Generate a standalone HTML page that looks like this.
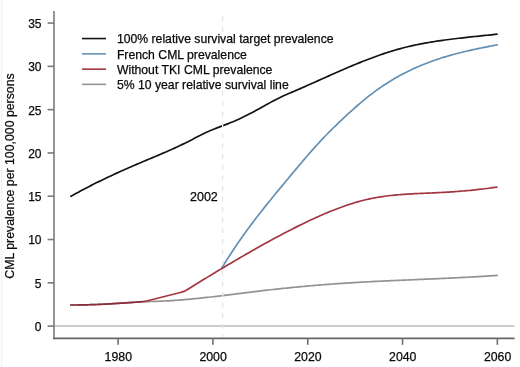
<!DOCTYPE html>
<html><head><meta charset="utf-8"><style>
html,body{margin:0;padding:0;background:#fff;width:520px;height:367px;overflow:hidden}
svg{display:block;filter:blur(0.35px)}
text{font-family:"Liberation Sans",sans-serif;font-size:12px;fill:#0a0a0a;stroke:#0a0a0a;stroke-width:0.25px}
text.lg{font-size:12.22px}
text.yl{font-size:12.3px}
text.yr{font-size:12.5px}
text.xt{font-size:12.3px}
</style></head><body>
<svg width="520" height="367" viewBox="0 0 520 367">
<line x1="53.6" y1="326.10" x2="514.6" y2="326.10" stroke="#bdbdbd" stroke-width="1.5"/>
<path d="M70.80,305.00 L72.79,305.01 L74.79,305.01 L76.78,305.00 L78.78,304.98 L80.77,304.95 L82.77,304.92 L84.76,304.88 L86.76,304.83 L88.75,304.77 L90.75,304.71 L92.74,304.64 L94.74,304.57 L96.73,304.49 L98.72,304.41 L100.72,304.32 L102.71,304.22 L104.71,304.12 L106.70,304.02 L108.70,303.91 L110.69,303.80 L112.69,303.69 L114.68,303.57 L116.68,303.45 L118.67,303.33 L120.66,303.20 L122.66,303.07 L124.65,302.94 L126.65,302.81 L128.64,302.68 L130.64,302.54 L132.63,302.41 L134.63,302.28 L136.62,302.14 L138.62,302.00 L140.61,301.87 L142.61,301.74 L144.60,301.60 L146.60,301.57 L148.61,301.55 L150.61,301.51 L152.61,301.46 L154.61,301.41 L156.62,301.34 L158.62,301.27 L160.62,301.19 L162.63,301.10 L164.63,301.00 L166.63,300.90 L168.63,300.79 L170.64,300.67 L172.64,300.54 L174.64,300.40 L176.65,300.26 L178.65,300.11 L180.65,299.96 L182.65,299.80 L184.66,299.63 L186.66,299.46 L188.66,299.28 L190.67,299.10 L192.67,298.91 L194.67,298.72 L196.67,298.52 L198.68,298.31 L200.68,298.11 L202.68,297.89 L204.69,297.68 L206.69,297.46 L208.69,297.23 L210.69,297.01 L212.70,296.78 L214.70,296.54 L216.70,296.31 L218.71,296.07 L220.71,295.83 L222.71,295.58 L224.71,295.34 L226.72,295.09 L228.72,294.84 L230.72,294.59 L232.72,294.34 L234.73,294.09 L236.73,293.84 L238.73,293.59 L240.74,293.34 L242.74,293.09 L244.74,292.84 L246.74,292.59 L248.75,292.34 L250.75,292.10 L252.75,291.85 L254.76,291.61 L256.76,291.37 L258.76,291.13 L260.76,290.89 L262.77,290.66 L264.77,290.43 L266.77,290.20 L268.78,289.97 L270.78,289.75 L272.78,289.52 L274.78,289.30 L276.79,289.09 L278.79,288.87 L280.79,288.66 L282.80,288.45 L284.80,288.24 L286.80,288.04 L288.80,287.83 L290.81,287.63 L292.81,287.43 L294.81,287.24 L296.82,287.04 L298.82,286.85 L300.82,286.66 L302.82,286.48 L304.83,286.30 L306.83,286.11 L308.83,285.94 L310.84,285.76 L312.84,285.59 L314.84,285.42 L316.84,285.25 L318.85,285.08 L320.85,284.92 L322.85,284.76 L324.86,284.60 L326.86,284.45 L328.86,284.29 L330.86,284.14 L332.87,284.00 L334.87,283.85 L336.87,283.71 L338.88,283.57 L340.88,283.43 L342.88,283.30 L344.88,283.17 L346.89,283.04 L348.89,282.91 L350.89,282.79 L352.90,282.67 L354.90,282.55 L356.90,282.43 L358.90,282.31 L360.91,282.20 L362.91,282.09 L364.91,281.98 L366.92,281.87 L368.92,281.76 L370.92,281.66 L372.92,281.56 L374.93,281.46 L376.93,281.36 L378.93,281.26 L380.94,281.16 L382.94,281.06 L384.94,280.97 L386.94,280.88 L388.95,280.78 L390.95,280.69 L392.95,280.60 L394.96,280.51 L396.96,280.42 L398.96,280.33 L400.96,280.25 L402.97,280.16 L404.97,280.07 L406.97,279.98 L408.98,279.90 L410.98,279.81 L412.98,279.73 L414.98,279.64 L416.99,279.56 L418.99,279.47 L420.99,279.39 L422.99,279.30 L425.00,279.21 L427.00,279.13 L429.00,279.04 L431.01,278.96 L433.01,278.87 L435.01,278.78 L437.01,278.69 L439.02,278.60 L441.02,278.51 L443.02,278.42 L445.03,278.33 L447.03,278.24 L449.03,278.14 L451.03,278.05 L453.04,277.95 L455.04,277.85 L457.04,277.76 L459.05,277.66 L461.05,277.55 L463.05,277.45 L465.05,277.35 L467.06,277.24 L469.06,277.13 L471.06,277.02 L473.07,276.91 L475.07,276.80 L477.07,276.68 L479.07,276.56 L481.08,276.44 L483.08,276.32 L485.08,276.20 L487.09,276.07 L489.09,275.94 L491.09,275.81 L493.09,275.67 L495.10,275.54 L497.10,275.40" fill="none" stroke="#939393" stroke-width="1.7" stroke-linejoin="round" stroke-linecap="round"/>
<path d="M70.90,196.25 L72.89,195.14 L74.89,194.05 L76.88,192.96 L78.87,191.88 L80.86,190.81 L82.86,189.75 L84.85,188.71 L86.84,187.67 L88.83,186.64 L90.83,185.62 L92.82,184.61 L94.81,183.61 L96.80,182.61 L98.80,181.63 L100.79,180.65 L102.78,179.69 L104.77,178.73 L106.77,177.78 L108.76,176.83 L110.75,175.90 L112.74,174.97 L114.74,174.05 L116.73,173.13 L118.72,172.23 L120.71,171.33 L122.71,170.43 L124.70,169.55 L126.69,168.66 L128.68,167.79 L130.68,166.92 L132.67,166.06 L134.66,165.20 L136.65,164.35 L138.65,163.50 L140.64,162.66 L142.63,161.82 L144.62,160.98 L146.62,160.14 L148.61,159.31 L150.60,158.47 L152.59,157.63 L154.59,156.79 L156.58,155.95 L158.57,155.11 L160.56,154.26 L162.56,153.40 L164.55,152.54 L166.54,151.67 L168.53,150.80 L170.53,149.91 L172.52,149.02 L174.51,148.12 L176.50,147.20 L178.50,146.27 L180.49,145.33 L182.48,144.38 L184.47,143.42 L186.47,142.43 L188.46,141.44 L190.45,140.42 L192.44,139.39 L194.44,138.35 L196.43,137.30 L198.42,136.26 L200.41,135.23 L202.41,134.23 L204.40,133.25 L206.39,132.32 L208.38,131.42 L210.38,130.56 L212.37,129.73 L214.36,128.93 L216.35,128.14 L218.35,127.37 L220.34,126.61 L222.33,125.86 L224.32,125.11 L226.32,124.36 L228.31,123.59 L230.30,122.81 L232.29,122.00 L234.29,121.17 L236.28,120.31 L238.27,119.42 L240.26,118.51 L242.26,117.57 L244.25,116.60 L246.24,115.61 L248.23,114.61 L250.23,113.57 L252.22,112.52 L254.21,111.45 L256.20,110.37 L258.20,109.27 L260.19,108.16 L262.18,107.05 L264.17,105.94 L266.17,104.83 L268.16,103.73 L270.15,102.63 L272.14,101.55 L274.14,100.48 L276.13,99.43 L278.12,98.41 L280.11,97.41 L282.11,96.44 L284.10,95.50 L286.11,94.67 L288.12,93.83 L290.13,92.98 L292.13,92.12 L294.14,91.26 L296.15,90.39 L298.16,89.52 L300.17,88.64 L302.18,87.76 L304.18,86.87 L306.19,85.99 L308.20,85.09 L310.21,84.20 L312.22,83.30 L314.23,82.41 L316.24,81.51 L318.24,80.61 L320.25,79.71 L322.26,78.81 L324.27,77.91 L326.28,77.01 L328.29,76.12 L330.30,75.22 L332.30,74.33 L334.31,73.44 L336.32,72.56 L338.33,71.68 L340.34,70.80 L342.35,69.93 L344.35,69.06 L346.36,68.20 L348.37,67.34 L350.38,66.49 L352.39,65.65 L354.40,64.81 L356.41,63.98 L358.41,63.16 L360.42,62.35 L362.43,61.55 L364.44,60.75 L366.45,59.97 L368.46,59.20 L370.47,58.43 L372.47,57.68 L374.48,56.94 L376.49,56.21 L378.50,55.50 L380.51,54.79 L382.52,54.10 L384.52,53.43 L386.53,52.77 L388.54,52.12 L390.55,51.49 L392.56,50.87 L394.57,50.27 L396.58,49.68 L398.58,49.12 L400.59,48.57 L402.60,48.03 L404.61,47.52 L406.62,47.02 L408.63,46.53 L410.63,46.06 L412.64,45.61 L414.65,45.17 L416.66,44.75 L418.67,44.34 L420.68,43.94 L422.69,43.55 L424.69,43.18 L426.70,42.82 L428.71,42.47 L430.72,42.13 L432.73,41.80 L434.74,41.49 L436.75,41.18 L438.75,40.88 L440.76,40.59 L442.77,40.30 L444.78,40.03 L446.79,39.76 L448.80,39.50 L450.80,39.24 L452.81,38.99 L454.82,38.75 L456.83,38.51 L458.84,38.27 L460.85,38.04 L462.86,37.81 L464.86,37.59 L466.87,37.37 L468.88,37.15 L470.89,36.93 L472.90,36.72 L474.91,36.51 L476.92,36.30 L478.92,36.09 L480.93,35.88 L482.94,35.67 L484.95,35.46 L486.96,35.25 L488.97,35.04 L490.97,34.83 L492.98,34.62 L494.99,34.41 L497.00,34.20" fill="none" stroke="#141414" stroke-width="1.7" stroke-linejoin="round" stroke-linecap="round"/>
<path d="M221.80,268.00 L223.79,264.75 L225.79,261.55 L227.78,258.40 L229.78,255.29 L231.77,252.24 L233.77,249.22 L235.76,246.26 L237.76,243.33 L239.75,240.44 L241.75,237.60 L243.74,234.79 L245.74,232.01 L247.73,229.27 L249.73,226.56 L251.72,223.88 L253.72,221.24 L255.71,218.61 L257.71,216.02 L259.70,213.45 L261.70,210.90 L263.69,208.38 L265.69,205.87 L267.68,203.38 L269.68,200.91 L271.67,198.45 L273.67,196.01 L275.66,193.58 L277.66,191.16 L279.65,188.75 L281.65,186.35 L283.64,183.95 L285.64,181.56 L287.63,179.18 L289.63,176.79 L291.62,174.41 L293.62,172.03 L295.61,169.64 L297.61,167.26 L299.60,164.87 L301.60,162.49 L303.59,160.12 L305.59,157.77 L307.58,155.44 L309.58,153.13 L311.57,150.85 L313.57,148.60 L315.56,146.39 L317.56,144.21 L319.55,142.06 L321.55,139.94 L323.54,137.84 L325.54,135.78 L327.53,133.74 L329.53,131.72 L331.52,129.72 L333.52,127.75 L335.51,125.80 L337.51,123.86 L339.50,121.94 L341.50,120.04 L343.49,118.15 L345.49,116.28 L347.48,114.43 L349.48,112.60 L351.47,110.80 L353.47,109.01 L355.46,107.25 L357.46,105.51 L359.45,103.80 L361.44,102.11 L363.44,100.45 L365.43,98.81 L367.43,97.21 L369.42,95.64 L371.42,94.09 L373.41,92.58 L375.41,91.10 L377.40,89.66 L379.40,88.25 L381.39,86.87 L383.39,85.52 L385.38,84.20 L387.38,82.92 L389.37,81.67 L391.37,80.44 L393.36,79.25 L395.36,78.08 L397.35,76.94 L399.35,75.83 L401.34,74.75 L403.34,73.69 L405.33,72.67 L407.33,71.66 L409.32,70.68 L411.32,69.73 L413.31,68.80 L415.31,67.90 L417.30,67.02 L419.30,66.16 L421.29,65.32 L423.29,64.50 L425.28,63.71 L427.28,62.94 L429.27,62.18 L431.27,61.45 L433.26,60.74 L435.26,60.04 L437.25,59.36 L439.25,58.70 L441.24,58.06 L443.24,57.43 L445.23,56.82 L447.23,56.23 L449.22,55.65 L451.22,55.08 L453.21,54.53 L455.21,53.99 L457.20,53.47 L459.20,52.96 L461.19,52.46 L463.19,51.97 L465.18,51.49 L467.18,51.02 L469.17,50.56 L471.17,50.12 L473.16,49.68 L475.16,49.25 L477.15,48.82 L479.15,48.41 L481.14,48.00 L483.14,47.59 L485.13,47.20 L487.13,46.80 L489.12,46.42 L491.12,46.03 L493.11,45.65 L495.11,45.28 L497.10,44.90" fill="none" stroke="#6490b4" stroke-width="1.7" stroke-linejoin="round" stroke-linecap="round"/>
<path d="M70.80,305.00 L72.79,305.00 L74.79,304.99 L76.78,304.98 L78.78,304.96 L80.77,304.93 L82.77,304.90 L84.76,304.86 L86.76,304.81 L88.75,304.76 L90.75,304.70 L92.74,304.63 L94.74,304.56 L96.73,304.49 L98.72,304.41 L100.72,304.32 L102.71,304.23 L104.71,304.13 L106.70,304.03 L108.70,303.93 L110.69,303.82 L112.69,303.71 L114.68,303.59 L116.68,303.47 L118.67,303.35 L120.66,303.22 L122.66,303.09 L124.65,302.96 L126.65,302.82 L128.64,302.68 L130.64,302.54 L132.63,302.40 L134.63,302.25 L136.62,302.11 L138.62,301.96 L140.61,301.81 L142.61,301.66 L144.60,301.50" fill="none" stroke="#8a2c39" stroke-width="1.7" stroke-linejoin="round" stroke-linecap="round"/>
<path d="M144.60,301.50 L146.59,300.98 L148.57,300.47 L150.56,299.96 L152.54,299.46 L154.53,298.96 L156.51,298.46 L158.50,297.97 L160.48,297.48 L162.47,296.98 L164.45,296.49 L166.44,296.00 L168.42,295.50 L170.41,295.00 L172.39,294.50 L174.38,294.00 L176.36,293.49 L178.34,292.98 L180.33,292.46 L182.31,291.93 L184.30,291.40 L186.30,290.16 L188.31,288.92 L190.31,287.69 L192.32,286.45 L194.32,285.22 L196.32,283.99 L198.33,282.76 L200.33,281.53 L202.33,280.31 L204.34,279.08 L206.34,277.86 L208.35,276.64 L210.35,275.43 L212.35,274.21 L214.36,273.00 L216.36,271.79 L218.37,270.59 L220.37,269.38 L222.37,268.18 L224.38,266.99 L226.38,265.79 L228.38,264.60 L230.39,263.41 L232.39,262.23 L234.40,261.05 L236.40,259.87 L238.40,258.70 L240.41,257.53 L242.41,256.37 L244.42,255.21 L246.42,254.05 L248.42,252.90 L250.43,251.75 L252.43,250.61 L254.43,249.47 L256.44,248.34 L258.44,247.21 L260.45,246.08 L262.45,244.96 L264.45,243.85 L266.46,242.74 L268.46,241.64 L270.47,240.54 L272.47,239.45 L274.47,238.36 L276.48,237.28 L278.48,236.21 L280.48,235.14 L282.49,234.08 L284.49,233.03 L286.50,231.98 L288.50,230.94 L290.50,229.91 L292.51,228.89 L294.51,227.88 L296.52,226.87 L298.52,225.88 L300.52,224.89 L302.53,223.91 L304.53,222.95 L306.53,221.99 L308.54,221.04 L310.54,220.10 L312.55,219.17 L314.55,218.26 L316.55,217.35 L318.56,216.46 L320.56,215.57 L322.57,214.70 L324.57,213.84 L326.57,212.99 L328.58,212.16 L330.58,211.33 L332.58,210.53 L334.59,209.73 L336.59,208.95 L338.60,208.19 L340.60,207.44 L342.60,206.71 L344.61,206.00 L346.61,205.31 L348.62,204.63 L350.62,203.98 L352.62,203.34 L354.63,202.73 L356.63,202.13 L358.63,201.56 L360.64,201.02 L362.64,200.49 L364.65,199.99 L366.65,199.52 L368.65,199.07 L370.66,198.64 L372.66,198.24 L374.67,197.86 L376.67,197.50 L378.67,197.16 L380.68,196.84 L382.68,196.54 L384.68,196.26 L386.69,196.00 L388.69,195.75 L390.70,195.52 L392.70,195.31 L394.70,195.11 L396.71,194.92 L398.71,194.75 L400.72,194.58 L402.72,194.43 L404.72,194.29 L406.73,194.16 L408.73,194.03 L410.73,193.91 L412.74,193.80 L414.74,193.70 L416.75,193.60 L418.75,193.51 L420.75,193.42 L422.76,193.33 L424.76,193.24 L426.77,193.16 L428.77,193.07 L430.77,192.98 L432.78,192.90 L434.78,192.81 L436.78,192.71 L438.79,192.62 L440.79,192.52 L442.80,192.41 L444.80,192.30 L446.80,192.18 L448.81,192.06 L450.81,191.93 L452.82,191.79 L454.82,191.65 L456.82,191.50 L458.83,191.35 L460.83,191.19 L462.83,191.02 L464.84,190.85 L466.84,190.67 L468.85,190.48 L470.85,190.29 L472.85,190.09 L474.86,189.88 L476.86,189.67 L478.87,189.44 L480.87,189.21 L482.87,188.98 L484.88,188.73 L486.88,188.48 L488.88,188.22 L490.89,187.95 L492.89,187.67 L494.90,187.39 L496.90,187.09" fill="none" stroke="#a33641" stroke-width="1.7" stroke-linejoin="round" stroke-linecap="round"/>
<line x1="222.6" y1="11" x2="222.6" y2="338" stroke="#e6e6e6" stroke-width="1.3" stroke-dasharray="5 5.6" stroke-dashoffset="5.3"/>
<path d="M54,10.9 V339.2" fill="none" stroke="#7a7a7a" stroke-width="1.6"/>
<path d="M53.2,338.4 H514.6" fill="none" stroke="#666" stroke-width="1.6"/>
<line x1="1.6" y1="0" x2="1.6" y2="367" stroke="#f2f2f2" stroke-width="1.5"/>
<line x1="47.6" y1="326.10" x2="54" y2="326.10" stroke="#7a7a7a" stroke-width="1.6"/>
<text x="41.5" y="331.00" text-anchor="end">0</text>
<line x1="47.6" y1="282.81" x2="54" y2="282.81" stroke="#7a7a7a" stroke-width="1.6"/>
<text x="41.5" y="287.71" text-anchor="end">5</text>
<line x1="47.6" y1="239.52" x2="54" y2="239.52" stroke="#7a7a7a" stroke-width="1.6"/>
<text x="41.5" y="244.42" text-anchor="end">10</text>
<line x1="47.6" y1="196.23" x2="54" y2="196.23" stroke="#7a7a7a" stroke-width="1.6"/>
<text x="41.5" y="201.13" text-anchor="end">15</text>
<line x1="47.6" y1="152.94" x2="54" y2="152.94" stroke="#7a7a7a" stroke-width="1.6"/>
<text x="41.5" y="157.84" text-anchor="end">20</text>
<line x1="47.6" y1="109.65" x2="54" y2="109.65" stroke="#7a7a7a" stroke-width="1.6"/>
<text x="41.5" y="114.55" text-anchor="end">25</text>
<line x1="47.6" y1="66.36" x2="54" y2="66.36" stroke="#7a7a7a" stroke-width="1.6"/>
<text x="41.5" y="71.26" text-anchor="end">30</text>
<line x1="47.6" y1="23.07" x2="54" y2="23.07" stroke="#7a7a7a" stroke-width="1.6"/>
<text x="41.5" y="27.97" text-anchor="end">35</text>
<line x1="118.10" y1="338" x2="118.10" y2="344.8" stroke="#6e6e6e" stroke-width="1.6"/>
<text class="xt" x="118.30" y="361.1" text-anchor="middle">1980</text>
<line x1="212.92" y1="338" x2="212.92" y2="344.8" stroke="#6e6e6e" stroke-width="1.6"/>
<text class="xt" x="213.12" y="361.1" text-anchor="middle">2000</text>
<line x1="307.74" y1="338" x2="307.74" y2="344.8" stroke="#6e6e6e" stroke-width="1.6"/>
<text class="xt" x="307.94" y="361.1" text-anchor="middle">2020</text>
<line x1="402.56" y1="338" x2="402.56" y2="344.8" stroke="#6e6e6e" stroke-width="1.6"/>
<text class="xt" x="402.76" y="361.1" text-anchor="middle">2040</text>
<line x1="497.38" y1="338" x2="497.38" y2="344.8" stroke="#6e6e6e" stroke-width="1.6"/>
<text class="xt" x="497.58" y="361.1" text-anchor="middle">2060</text>
<text class="yr" x="217.8" y="200.5" text-anchor="end">2002</text>
<text class="yl" transform="translate(13.6,176.0) rotate(-90)" text-anchor="middle">CML prevalence per 100,000 persons</text>
<line x1="82" y1="38.55" x2="106" y2="38.55" stroke="#141414" stroke-width="1.6"/>
<text class="lg" x="116.9" y="43.30">100% relative survival target prevalence</text>
<line x1="82" y1="53.85" x2="106" y2="53.85" stroke="#6490b4" stroke-width="1.6"/>
<text class="lg" x="116.9" y="58.60">French CML prevalence</text>
<line x1="82" y1="69.15" x2="106" y2="69.15" stroke="#a33641" stroke-width="1.6"/>
<text class="lg" x="116.9" y="73.90">Without TKI CML prevalence</text>
<line x1="82" y1="84.35" x2="106" y2="84.35" stroke="#939393" stroke-width="1.6"/>
<text class="lg" x="116.9" y="89.10">5% 10 year relative survival line</text>
</svg>
</body></html>
